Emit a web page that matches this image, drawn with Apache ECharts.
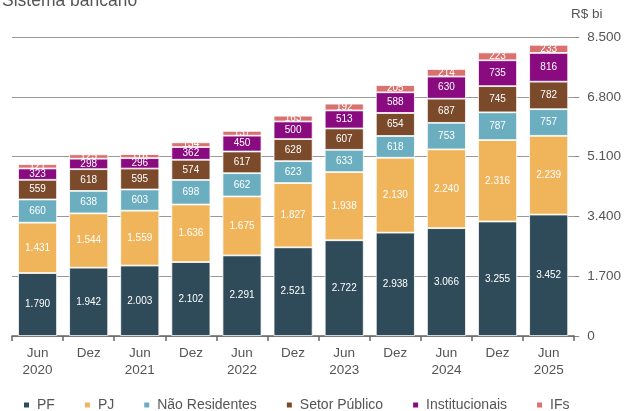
<!DOCTYPE html>
<html>
<head>
<meta charset="utf-8">
<script src="https://cdn.jsdelivr.net/npm/echarts@6/dist/echarts.min.js"></script>
<style>
  html, body { margin: 0; padding: 0; background: #fff; }
  #chart { width: 624px; height: 411px; }
</style>
</head>
<body>
<div id="chart"></div>
<script>
// períodos
const categorias = ['Jun\n2020', 'Dez', 'Jun\n2021', 'Dez', 'Jun\n2022', 'Dez', 'Jun\n2023', 'Dez', 'Jun\n2024', 'Dez', 'Jun\n2025'];
// R$ bi
const pf = [1790, 1942, 2003, 2102, 2291, 2521, 2722, 2938, 3066, 3255, 3452];
const pj = [1431, 1544, 1559, 1636, 1675, 1827, 1938, 2130, 2240, 2316, 2239];
const naoResidentes = [660, 638, 603, 698, 662, 623, 633, 618, 753, 787, 757];
const setorPublico = [559, 618, 595, 574, 617, 628, 607, 654, 687, 745, 782];
const institucionais = [323, 298, 296, 362, 450, 500, 513, 588, 630, 735, 816];
const ifs = [121, 125, 116, 134, 137, 163, 192, 205, 214, 223, 233];

const fmt = v => String(v).replace(/\B(?=(\d{3})+(?!\d))/g, '.');
const fonte = 'Liberation Sans, Arial, sans-serif';

const series = [
  ['PF', pf, '#2f4b5a'],
  ['PJ', pj, '#f0b55a'],
  ['Não Residentes', naoResidentes, '#6aaec0'],
  ['Setor Público', setorPublico, '#7a4a2b'],
  ['Institucionais', institucionais, '#8a0a80'],
  ['IFs', ifs, '#d9716f']
].map(([name, data, color]) => ({
  name: name,
  type: 'bar',
  stack: 'total',
  data: data,
  barWidth: 39,
  itemStyle: { color: color, borderColor: '#fff', borderWidth: 0.8 },
  label: {
    show: true,
    position: 'inside',
    color: '#fff',
    fontSize: 10,
    fontFamily: fonte,
    formatter: p => fmt(p.value)
  }
}));

const chart = echarts.init(document.getElementById('chart'));
chart.setOption({
  animation: false,
  textStyle: { fontFamily: fonte },
  title: {
    text: 'Sistema bancário',
    left: -3,
    top: -13,
    textStyle: { fontSize: 17.5, fontWeight: 'normal', color: '#555', fontFamily: fonte }
  },
  graphic: [{
    type: 'text',
    left: 571,
    top: 7,
    style: { text: 'R$ bi', fontSize: 13.5, fill: '#555', fontFamily: fonte }
  }],
  legend: {
    left: 17,
    top: 393,
    itemWidth: 7,
    itemHeight: 7,
    itemGap: 28,
    icon: 'rect',
    textStyle: { fontSize: 14, color: '#555', fontFamily: fonte, padding: [0, 0, 0, 2] }
  },
  grid: { left: 12, right: 49, top: 37, bottom: 75 },
  xAxis: {
    type: 'category',
    data: categorias,
    axisLine: { lineStyle: { color: '#666', width: 1.5 } },
    axisTick: { show: true, length: 5, lineStyle: { color: '#666', width: 1.5 } },
    axisLabel: { color: '#555', fontSize: 13.5, lineHeight: 17, margin: 9, fontFamily: fonte }
  },
  yAxis: {
    type: 'value',
    position: 'right',
    min: 0,
    max: 8500,
    interval: 1700,
    axisLine: { show: false },
    axisTick: { show: true, length: 5, lineStyle: { color: '#888' } },
    splitLine: { lineStyle: { color: '#999', width: 1 } },
    axisLabel: { color: '#555', fontSize: 13.5, margin: 13, fontFamily: fonte, formatter: v => fmt(v) }
  },
  series: series
});
</script>
</body>
</html>
